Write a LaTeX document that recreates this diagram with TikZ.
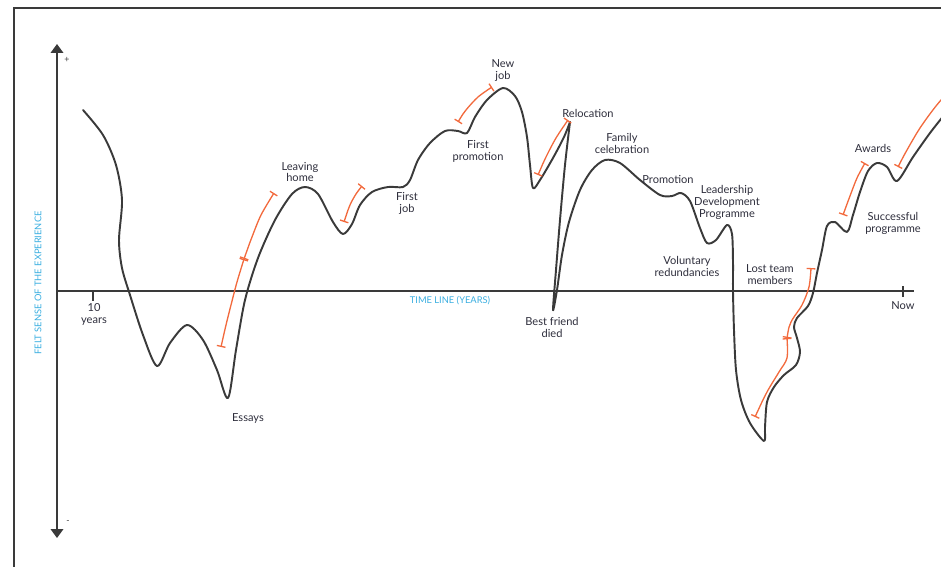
\documentclass[tikz,border=0pt]{standalone}
\usepackage{fontspec}
\setmainfont{Lato}
\usetikzlibrary{arrows.meta}
\definecolor{ink}{HTML}{3A3A3A}
\definecolor{labelink}{HTML}{2E2E3C}
\definecolor{accent}{HTML}{F26A3D}
\definecolor{axislabel}{HTML}{3AAEE0}
\tikzset{
  frame/.style={draw=ink, line width=1.4pt},
  axis/.style={draw=ink, line width=1.1pt},
  lifeline/.style={draw=ink, line width=1.1pt, line join=round, line cap=round},
  bracket/.style={draw=accent, line width=0.75pt, {Bar[width=5pt,line width=0.75pt]}-{Bar[width=5pt,line width=0.75pt]}},
  openbracket/.style={draw=accent, line width=0.75pt, {Bar[width=5pt,line width=0.75pt]}-},
  event/.style={text=labelink, font=\fontsize{6.3}{6.8}\selectfont, align=center, inner sep=0pt},
  axistext/.style={text=axislabel, font=\fontsize{5.3}{6}\selectfont, inner sep=0pt},
  sign/.style={text=ink, font=\fontsize{5}{5}\selectfont, inner sep=0pt}
}
\begin{document}
\begin{tikzpicture}[x=0.02cm, y=-0.02cm]
\useasboundingbox (0,0) rectangle (941,566);
\clip (0,0) rectangle (941,566);

% outer frame (runs past the page on the right and bottom)
\draw[frame] (14,8) rectangle (990,600);

% axes
\coordinate (vtop) at (57,44);
\coordinate (vbot) at (57,538);
\coordinate (hleft) at (57,291);
\coordinate (hright) at (914,291);
\draw[axis, {Triangle[width=7pt,length=5pt]}-{Triangle[width=7pt,length=5pt]}] (vtop) -- (vbot);
\draw[axis] (hleft) -- (hright);
\coordinate (tenA) at (93,291);
\coordinate (tenB) at (93,301);
\coordinate (nowA) at (903,286);
\coordinate (nowB) at (903,297);
\draw[axis, line width=0.8pt] (tenA) -- (tenB);
\draw[axis, line width=0.8pt] (nowA) -- (nowB);

\node[sign] (plus) at (67,60) {+};
\node[sign] (minus) at (68,522) {-};
\node[event] (ten) at (94,314) {10\\years};
\node[event] (now) at (903,306) {Now};
\node[axistext] (timeline) at (450,301) {TIME LINE (YEARS)};
\node[axistext, rotate=90] (felt) at (38,283) {FELT SENSE OF THE EXPERIENCE};

% the life line
\draw[lifeline] plot[smooth, tension=0.5] coordinates {
  (83,110) (103,135) (116,165) (122,200) (119,240) (122,268) (130,295)
  (143,335) (157,366) (170,343) (187,325) (203,340) (217,370) (228,398)
  (236,350) (245,300) (258,258) (275,220) (292,194) (305,187) (318,194)
  (333,222) (343,234) (352,224) (360,205) (372,192) (388,187) (403,187)
  (410,180) (418,160) (430,143) (445,131) (458,131) (467,133) (475,117)
  (487,100) (503,88) (515,96) (522,112) (527,137) (530,165) (533,188)
  (540,180) (553,158) (564,137) (570,122)};
\draw[lifeline] plot[smooth, tension=0.5] coordinates {
  (570,122) (565,165) (560,220) (556,270) (553,310) (557,290) (562,255)
  (569,222) (580,190) (592,170) (605,160) (620,163) (640,180) (660,195)
  (672,196) (681,193) (690,201) (700,228) (707,243) (716,240) (727,225)
  (732,234) (733,262) (733,291) (734,330) (736,370) (741,400) (750,423)
  (764,441) (765,427) (767,402) (774,387) (784,375) (796,365) (800,352)
  (797,338) (794,327) (797,318) (808,306) (813,293) (817,273) (822,250)
  (827,226) (835,222) (847,232) (853,215) (860,192) (868,171) (877,163)
  (887,167) (897,181) (913,157) (930,133) (945,114) (960,96)};

% rising stretches
\draw[bracket] plot[smooth] coordinates {(221,347) (226,325) (231,305) (237,282) (244,259)};
\draw[bracket] plot[smooth] coordinates {(244,259) (252,237) (261,215) (274,193)};
\draw[bracket] plot[smooth] coordinates {(344,222) (350,205) (356,194) (362,186)};
\draw[bracket] plot[smooth] coordinates {(458,122) (466,110) (478,97) (492,87)};
\draw[bracket] plot[smooth] coordinates {(538,175) (546,157) (556,138) (568,120)};
\draw[bracket] plot[smooth] coordinates {(755,417) (767,392) (779,372) (787,358) (787,338)};
\draw[bracket] plot[smooth] coordinates {(787,338) (791,322) (802,305) (809,287) (811,268)};
\draw[bracket] plot[smooth] coordinates {(843,215) (850,196) (857,178) (865,163)};
\draw[openbracket] plot[smooth] coordinates {(898,167) (907,150) (920,128) (936,106) (955,84)};

% events
\node[event] (leaving) at (300,172) {Leaving\\home};
\node[event] (firstjob) at (407,203) {First\\job};
\node[event] (firstpromo) at (478,151) {First\\promotion};
\node[event] (newjob) at (503,71) {New\\job};
\node[event] (reloc) at (588,113) {Relocation};
\node[event] (family) at (622,143) {Family\\celebration};
\node[event] (promotion) at (668,179) {Promotion};
\node[event] (leadership) at (727,202) {Leadership\\Development\\Programme};
\node[event] (voluntary) at (687,266) {Voluntary\\redundancies};
\node[event] (lostteam) at (770,275) {Lost team\\members};
\node[event] (bestfriend) at (552,327) {Best friend\\died};
\node[event] (essays) at (248,418) {Essays};
\node[event] (awards) at (873,148) {Awards};
\node[event] (successful) at (893,223) {Successful\\programme};
\end{tikzpicture}
\end{document}
